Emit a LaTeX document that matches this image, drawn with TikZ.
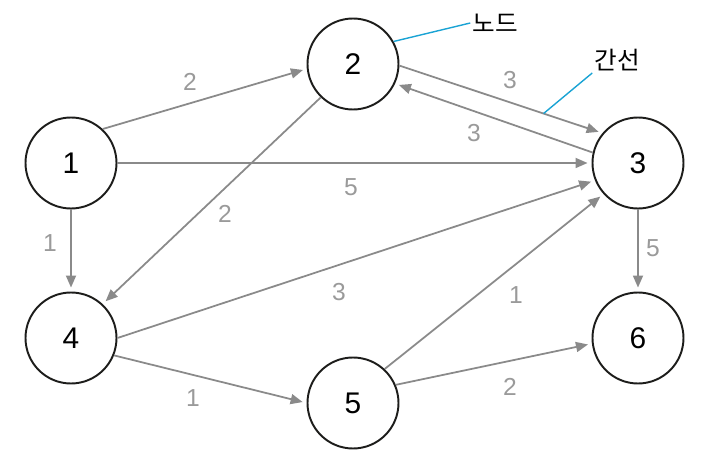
\documentclass[tikz,border=0pt]{standalone}
\usepackage{fontspec}
\setmainfont{Liberation Sans}
\newfontfamily\kofont{Noto Sans CJK KR}
\usetikzlibrary{arrows.meta, positioning}
\definecolor{graphGrey}{HTML}{8A8A8A}
\definecolor{labelGrey}{HTML}{9A9A9A}
\definecolor{noteCyan}{HTML}{1AA3D4}
\definecolor{nodeBlack}{HTML}{1D1D1B}
\tikzset{
    vertex node/.style={circle, draw=nodeBlack, line width=1.1pt, minimum size=18.2mm, inner sep=0pt, font=\fontsize{17}{20}\selectfont},
    edge arrow/.style={-{Triangle[length=2.4mm, width=2mm]}, line width=1pt, graphGrey, shorten >=0.8mm},
    weight label/.style={text=labelGrey, font=\fontsize{14}{16}\selectfont, inner sep=1pt},
    note label/.style={font=\kofont\fontsize{14}{16}\selectfont, inner sep=1pt},
    note line/.style={noteCyan, line width=0.8pt},
}

\begin{document}
\begin{tikzpicture}[x=0.2mm, y=-0.2mm]
    \useasboundingbox (0,0) rectangle (709,470);
    \node[vertex node] (n1) at (71,163) {1};
    \node[vertex node] (n2) at (353,64) {2};
    \node[vertex node] (n3) at (638,163) {3};
    \node[vertex node] (n4) at (71,338) {4};
    \node[vertex node] (n5) at (353,403) {5};
    \node[vertex node] (n6) at (638,338) {6};
    \draw[edge arrow] (n1.47) -- (n2.186);
    \draw[edge arrow] (n1.0) -- (n3.180);
    \draw[edge arrow] (n1.270) -- (n4.90);
    \draw[edge arrow] (n2.358) -- coordinate[pos=0.71] (e23) (n3.140);
    \draw[edge arrow] (n3.167) -- (n2.335);
    \draw[edge arrow] (n2.226) -- (n4.47);
    \draw[edge arrow] (n4.0) -- (n3.202);
    \draw[edge arrow] (n4.338) -- (n5.180);
    \draw[edge arrow] (n5.47) -- (n3.222);
    \draw[edge arrow] (n5.23) -- (n6.187);
    \draw[edge arrow] (n3.270) -- (n6.90);
    \node[weight label] (w12) at (190,82) {2};
    \node[weight label] (w13) at (351,187) {5};
    \node[weight label] (w14) at (50,243) {1};
    \node[weight label] (w24) at (225,214) {2};
    \node[weight label] (w23) at (510,80) {3};
    \node[weight label] (w32) at (474,133) {3};
    \node[weight label] (w43) at (339,292) {3};
    \node[weight label] (w45) at (193,398) {1};
    \node[weight label] (w53) at (516,295) {1};
    \node[weight label] (w56) at (510,387) {2};
    \node[weight label] (w36) at (653,248) {5};
    \node[note label] (nd) at (495,23) {노드};
    \node[note label] (gs) at (617,60) {간선};
    \draw[note line] (n2.29) -- (nd.west);
    \draw[note line] (e23) -- (gs.south west);
\end{tikzpicture}
\end{document}
